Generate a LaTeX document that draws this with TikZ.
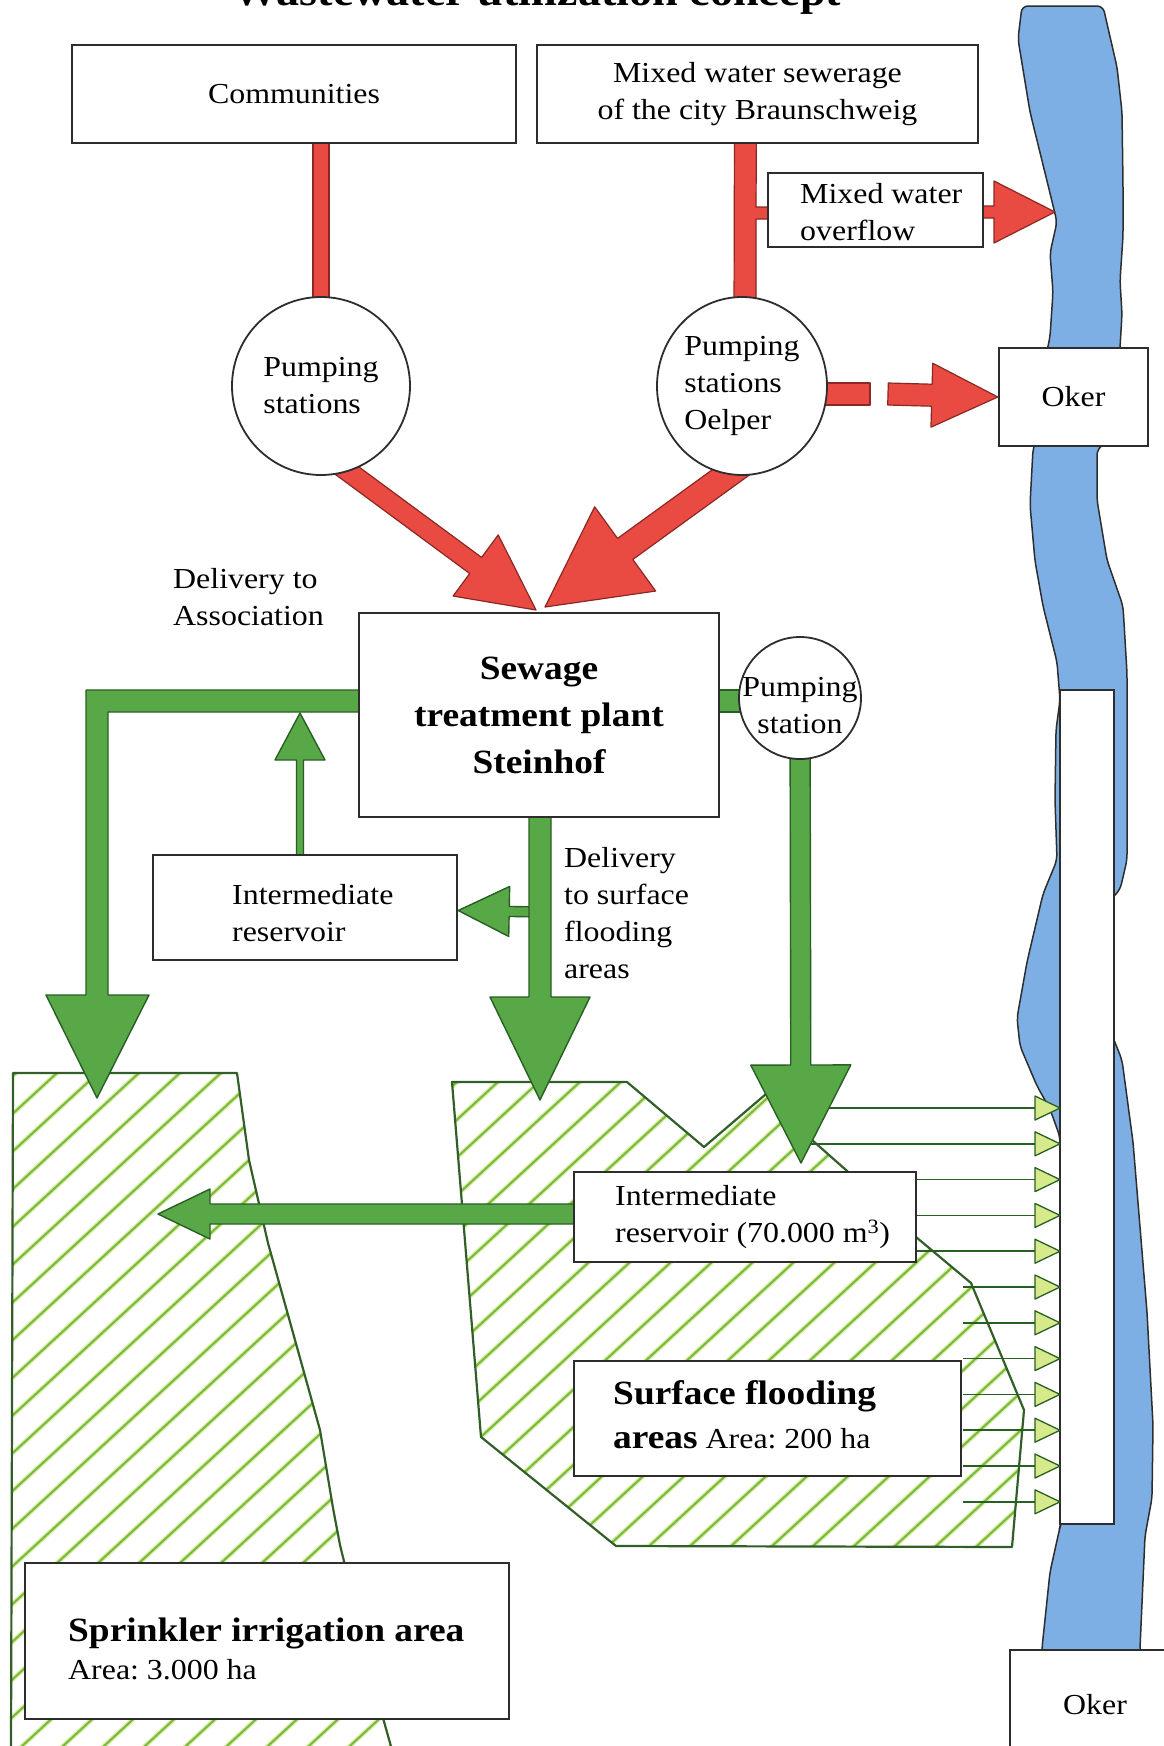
\documentclass[tikz,border=0pt]{standalone}
\usepackage{fontspec}
\setmainfont{Liberation Serif}[FakeStretch=1.1]
\usetikzlibrary{calc,shapes.geometric}
\pgfdeclarelayer{back}
\pgfdeclarelayer{mid}
\pgfsetlayers{back,mid,main}
\definecolor{redfill}{RGB}{233,74,66}
\definecolor{redline}{RGB}{140,40,35}
\definecolor{grfill}{RGB}{88,168,72}
\definecolor{grline}{RGB}{40,95,35}
\definecolor{trifill}{RGB}{214,234,140}
\definecolor{hatchc}{RGB}{120,185,70}
\definecolor{hatchhalo}{RGB}{218,238,155}
\definecolor{areaedge}{RGB}{50,95,40}
\definecolor{riverc}{RGB}{125,175,228}
\definecolor{inkc}{RGB}{45,45,45}
\newcommand\fsreg{\fontsize{29}{37}\selectfont}
\newcommand\fsbold{\fontsize{34}{47}\selectfont\bfseries}
\newcommand\fatarrow[6]{%
  \coordinate (fa-s) at (#2);
  \coordinate (fa-t) at (#3);
  \coordinate (fa-b) at ($(fa-t)!#6!(fa-s)$);
  \draw[#1] ($(fa-s)!#4!90:(fa-t)$) -- ($(fa-b)!#4!90:(fa-t)$) -- ($(fa-b)!#5!90:(fa-t)$) -- (fa-t) -- ($(fa-b)!#5!-90:(fa-t)$) -- ($(fa-b)!#4!-90:(fa-t)$) -- ($(fa-s)!#4!-90:(fa-t)$) -- cycle;
}
\begin{document}
\frenchspacing
\begin{tikzpicture}[x=1pt,y=-1pt,
  box/.style={draw=inkc,line width=2.4pt,fill=white,inner sep=0pt,font=\fsreg,align=center},
  circ/.style={circle,draw=inkc,line width=1.8pt,fill=white,inner sep=0pt,font=\fsreg},
  lbl/.style={anchor=west,inner sep=0pt,align=left,font=\fsreg},
  redarr/.style={fill=redfill,draw=redline,line width=1.2pt,line join=round},
  grarr/.style={fill=grfill,draw=grline,line width=1.4pt,line join=round},
  arealine/.style={draw=areaedge,line width=2.2pt,line join=round},
  hatchwide/.style={hatchhalo,line width=4.5pt},
  hatchthin/.style={hatchc,line width=2pt}
]
\useasboundingbox (0,0) rectangle (1164,1746);

% ---------- nodes ----------
\node[anchor=base,inner sep=0pt,font={\fontsize{42}{50}\selectfont\bfseries}] (title) at (537,5) {Wastewater utilization concept};
\node[box,minimum width=444pt,minimum height=98pt] (comm) at (294,94) {Communities};
\node[box,minimum width=441pt,minimum height=98pt] (mws) at (757.5,94) {Mixed water sewerage\\of the city Braunschweig};
\node[box,minimum width=215pt,minimum height=74pt] (ovf) at (875.5,210) {};
\node[lbl] (ovft) at (800,212) {Mixed water\\overflow};
\node[box,minimum width=149pt,minimum height=98pt] (oker1) at (1073.5,397) {Oker};
\node[circ,minimum size=178pt,align=left] (ps1) at (321,386) {Pumping\\stations};
\node[ellipse,draw=inkc,line width=1.8pt,fill=white,inner sep=0pt,font=\fsreg,align=left,minimum width=170pt,minimum height=178pt] (oel) at (742,386) {Pumping\\stations\\Oelper};
\node[lbl] (deliv1) at (173,597) {Delivery to\\Association};
\node[box,minimum width=360pt,minimum height=204pt,font=\fsbold] (stp) at (539,715) {Sewage\\treatment plant\\Steinhof};
\node[circ,minimum size=122pt] (psr) at (800,698) {};
\node[inner sep=0pt,align=center,font=\fsreg] (psrt) at (800,706) {Pumping\\station};
\node[box,minimum width=304pt,minimum height=105pt] (ir1) at (305,907.5) {};
\node[lbl] (ir1t) at (232,913) {Intermediate\\reservoir};
\node[lbl] (deliv2) at (564,913) {Delivery\\to surface\\flooding\\areas};
\node[box,minimum width=342pt,minimum height=90pt] (ir2) at (745,1217) {};
\node[lbl] (ir2t) at (615,1217) {Intermediate\\reservoir (70.000 m\textsuperscript{3})};
\node[box,minimum width=387pt,minimum height=115pt] (sfa) at (767.5,1418.5) {};
\node[lbl,font={\fontsize{34}{44}\selectfont\bfseries}] (sfat) at (613,1415) {Surface flooding\\areas\hspace{8pt}{\fsreg\mdseries Area: 200 ha}};
\node[box,minimum width=484pt,minimum height=156pt] (spr) at (267,1641) {};
\node[lbl,font={\fontsize{34}{38}\selectfont\bfseries}] (sprt) at (68,1649) {Sprinkler irrigation area\\{\fsreg\mdseries Area: 3.000 ha}};
\node[box,minimum width=170pt,minimum height=110pt] (oker2) at (1095,1705) {Oker};

\coordinate (tipO) at (1055,212);
\coordinate (gapE) at (888,394);
\coordinate (srcA) at (311,444);
\coordinate (tipA) at (536,610);
\coordinate (srcB) at (770,444);
\coordinate (tipB) at (545,607);
\coordinate (tipL) at (97,1098);
\coordinate (tipU) at (300,713);
\coordinate (tipM) at (540,1100);
\coordinate (tipR) at (801,1163);
\coordinate (tipW) at (158,1214);
\coordinate (brS) at (540,912);

% ---------- background: river and areas ----------
\begin{pgfonlayer}{back}
\fill[white] (0,0) rectangle (1164,1746);
\draw[fill=riverc,draw=inkc,line width=1.5pt,rounded corners=6pt]
  (1022,6) -- (1018,39) -- (1030,112) -- (1048,185) -- (1057,222) -- (1050,253) -- (1053,292) -- (1050,337) -- (1045,360) -- (1036,440) -- (1033,449) -- (1030,505) -- (1035,561) -- (1043,606) -- (1057,662) -- (1060,700) -- (1056,730) -- (1055,800) -- (1057,860) -- (1043,894) -- (1027,962) -- (1017,1018) -- (1020,1046) -- (1037,1086) -- (1050,1109) -- (1060,1137) -- (1061,1524) -- (1060,1527) -- (1050,1572) -- (1042,1648) -- (1040,1760)
  -- (1140,1760) -- (1140,1648) -- (1145,1536) -- (1152,1498) -- (1153,1425) -- (1147,1312) -- (1133,1142) -- (1122,1060) -- (1112,1035) -- (1110,1000) -- (1110,900) -- (1120,890) -- (1127,860) -- (1127,673) -- (1123,606) -- (1107,560) -- (1097,500) -- (1097,449) -- (1110,440) -- (1120,348) -- (1122,314) -- (1120,281) -- (1123,236) -- (1123,185) -- (1122,112) -- (1117,67) -- (1108,28) -- (1103,6) -- cycle;
\draw[inkc,line width=1.5pt,fill=white] (1060,690) rectangle (1114,1524);
% sprinkler area
\begin{scope}
  \clip (13,1073) -- (237,1073) -- (249,1160) -- (268,1243) -- (290,1322) -- (320,1430) -- (333,1508) -- (340,1545) -- (383,1718) -- (392,1750) -- (11,1750) -- cycle;
  \foreach \c in {1050,1087.7,...,2900} {
    \draw[hatchwide] (0,\c) -- (1164,\c-1071);
    \draw[hatchthin] (0,\c) -- (1164,\c-1071);
  }
\end{scope}
\draw[arealine] (11,1750) -- (13,1073) -- (237,1073) -- (249,1160) -- (268,1243) -- (290,1322) -- (320,1430) -- (333,1508) -- (340,1545) -- (383,1718) -- (392,1750);
% surface flooding area
\begin{scope}
  \clip (452,1082) -- (627,1082) -- (704,1147) -- (773,1088) -- (812,1140) -- (846,1170) -- (916,1237) -- (971,1283) -- (1024,1410) -- (1012,1547) -- (616,1546) -- (481,1437) -- cycle;
  \foreach \c in {1050,1087.7,...,2900} {
    \draw[hatchwide] (0,\c) -- (1164,\c-1071);
    \draw[hatchthin] (0,\c) -- (1164,\c-1071);
  }
\end{scope}
\draw[arealine] (452,1082) -- (627,1082) -- (704,1147) -- (773,1088) -- (812,1140) -- (846,1170) -- (916,1237) -- (971,1283) -- (1024,1410) -- (1012,1547) -- (616,1546) -- (481,1437) -- cycle;
\end{pgfonlayer}

% ---------- connectors ----------
\begin{pgfonlayer}{mid}
% outflow arrows into the river
\foreach \i/\xs in {0/805,1/805,2/900,3/900,4/900,5/963,6/963,7/963,8/963,9/963,10/963,11/963} {
  \pgfmathsetmacro\yy{1108+35.8*\i}
  \draw[grline,line width=1.6pt] (\xs,\yy) -- (1035,\yy);
  \draw[fill=trifill,draw=grline,line width=1.3pt,line join=round] (1035,\yy-12) -- (1060,\yy) -- (1035,\yy+12) -- cycle;
}
% red
\draw[redarr] ($(comm.south)+(19,-20)$) rectangle ($(ps1.north)+(8,20)$);
\draw[redarr] ($(mws.south)+(-23,-20)$) -- ($(oel.north)+(-8,20)$) -- ($(oel.north)+(14,20)$) -- (756,219) -- ($(ovf.west)+(10,9)$) -- ($(ovf.west)+(10,-3)$) -- (756,207) -- ($(mws.south)+(-1,-20)$) -- cycle;
\fatarrow{redarr}{$(ovf.center)+(0,2)$}{tipO}{6pt}{31pt}{61pt}
\draw[redarr] ($(oel.center)+(0,-3)$) rectangle (870,405);
\fatarrow{redarr}{gapE}{oker1.west}{11pt}{32pt}{66pt}
\fatarrow{redarr}{srcA}{tipA}{10pt}{38pt}{75pt}
\fatarrow{redarr}{srcB}{tipB}{13pt}{52pt}{99pt}
% green
\draw[grarr] ($(stp.west)+(10,-25)$) -- (86,690) -- (86,995) -- (46,995) -- (tipL) -- (149,995) -- (108,995) -- (108,712) -- ($(stp.west)+(10,-3)$) -- cycle;
\fatarrow{grarr}{$(ir1.center)+(-5,0)$}{tipU}{3.5pt}{25pt}{47pt}
\fatarrow{grarr}{brS}{$(ir1.east)+(0,3)$}{5pt}{25pt}{51pt}
\fatarrow{grarr}{$(stp.center)+(1,0)$}{tipM}{11pt}{50pt}{103pt}
\draw[grarr] ($(stp.east)+(-5,-25)$) rectangle ($(psr.center)+(0,14)$);
\fatarrow{grarr}{psr.center}{tipR}{10pt}{50pt}{98pt}
\fatarrow{grarr}{$(ir2.center)+(0,-3)$}{tipW}{10pt}{25pt}{52pt}
\end{pgfonlayer}
\end{tikzpicture}
\end{document}
